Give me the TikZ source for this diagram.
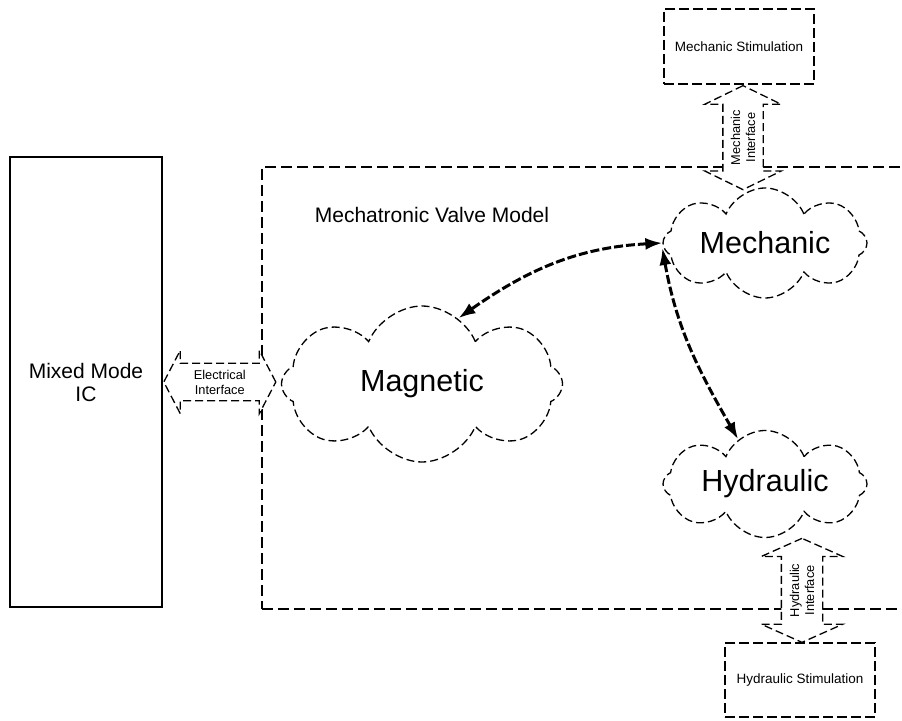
\documentclass[tikz,border=0pt]{standalone}
\usepackage{fontspec}
\setmainfont{Liberation Sans}
\usepackage{tikz}
\usetikzlibrary{shapes.symbols, shapes.arrows, arrows.meta}
\usetikzlibrary{positioning}
\tikzstyle{block} = [rectangle, draw=black, line width=1.6pt, minimum width=152pt, minimum height=450pt, align=center, font=\fontsize{21}{23}\selectfont]
\tikzstyle{modelbox} = [rectangle, draw=black, line width=1.3pt, dash pattern=on 11pt off 5pt, minimum width=658pt, minimum height=442pt]
\tikzstyle{stimbox} = [rectangle, draw=black, line width=1.3pt, dash pattern=on 10pt off 4pt, fill=white, minimum width=150pt, minimum height=75pt, font=\fontsize{13.5}{16}\selectfont]
\tikzstyle{puff} = [cloud, cloud puffs=8, cloud puff arc=135, cloud ignores aspect, draw=black, line width=1.3pt, dash pattern=on 8pt off 4pt, fill=white, inner sep=0pt]
\tikzstyle{cloudtext} = [font=\fontsize{30.5}{36}\selectfont, inner sep=0pt]
\tikzstyle{iface} = [double arrow, draw=black, line width=1.3pt, dash pattern=on 8pt off 4pt, fill=white, inner xsep=0pt, double arrow head indent=0pt]
\tikzstyle{ifacetext} = [align=center, font=\fontsize{12.8}{15}\selectfont, inner sep=0pt]
\tikzstyle{link} = [<->, >={Latex[length=17pt,width=12pt]}, line width=3pt, dash pattern=on 9pt off 3pt]
\begin{document}
\begin{tikzpicture}
\useasboundingbox (-86pt,-338pt) rectangle (816pt,382pt);
\node[block] (ic) 
          {Mixed Mode\\IC};
\node[modelbox] (valve) at (ic) [xshift=505pt,yshift=-6pt] {};
\node[anchor=west, font=\fontsize{21}{25}\selectfont] (title) at (valve.north west) [xshift=50pt,yshift=-49pt] 
          {Mechatronic Valve Model};
\node[puff, minimum width=281pt, minimum height=156pt, label={[cloudtext]center:Magnetic}] (mag) at (ic) [xshift=336pt,yshift=-2pt] {};
\node[puff, minimum width=204pt, minimum height=110pt, label={[cloudtext]center:Mechanic}] (mech) at (ic) [xshift=679pt,yshift=139pt] {};
\node[puff, minimum width=204pt, minimum height=107pt, label={[cloudtext]center:Hydraulic}] (hyd) at (mech) [xshift=0pt,yshift=-241pt] {};
\node[stimbox] (mstim) at (mech) [xshift=-26pt,yshift=196.5pt] 
          {Mechanic Stimulation};
\node[stimbox, minimum height=74pt] (hstim) at (hyd) [xshift=35pt,yshift=-196pt] 
          {Hydraulic Stimulation};
% interfaces
\node[iface, minimum height=112pt, inner ysep=18pt, double arrow head extend=13pt, double arrow tip angle=125,
      label={[ifacetext]center:Electrical\\Interface}] (elec) at (ic.east) [xshift=57pt] {};
\node[iface, rotate=90, minimum height=104pt, inner ysep=19.5pt, double arrow head extend=18pt, double arrow tip angle=128,
      label={[ifacetext,rotate=90]center:Mechanic\\Interface}] (mint) at ([xshift=4pt,yshift=-53pt]mstim.south) {};
\node[iface, rotate=90, minimum height=104pt, inner ysep=20pt, double arrow head extend=20pt, double arrow tip angle=132,
      label={[ifacetext,rotate=90]center:Hydraulic\\Interface}] (hint) at ([xshift=2pt,yshift=52pt]hstim.north) {};
\draw[link] (mech.west) to[out=183,in=35] (mag.61);
\draw[link] ([yshift=-5pt]mech.west) to[out=-80,in=120] (hyd.121);
\end{tikzpicture}
\end{document}
